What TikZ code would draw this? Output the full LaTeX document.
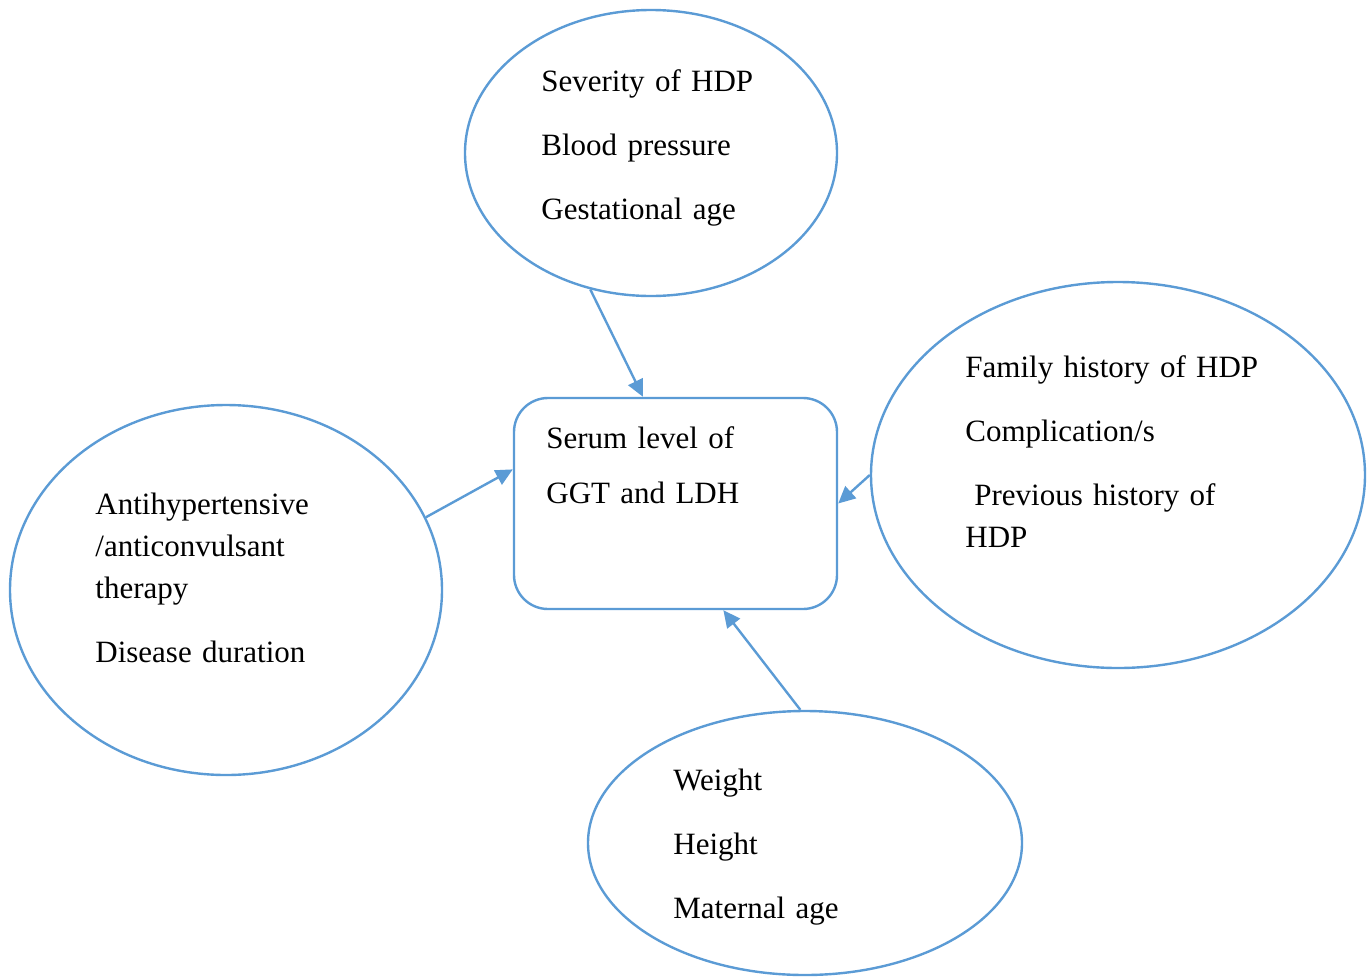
\documentclass[tikz,border=0pt]{standalone}
\usepackage{fontspec}
\setmainfont{Liberation Serif}
\usetikzlibrary{arrows.meta,calc,shapes.geometric}
\definecolor{linkblue}{HTML}{5B9BD5}

\begin{document}
\begin{tikzpicture}[x=0.5pt,y=-0.5pt,>={Triangle[length=8.5pt,width=8pt]},
  bubble/.style={draw=linkblue,line width=1.2pt,ellipse,inner sep=0pt},
  items/.style={anchor=base west,align=left,text width=170pt,inner sep=0pt,
                font=\fontsize{15.5}{21}\selectfont},
  link/.style={->,draw=linkblue,line width=1.2pt}]
  \useasboundingbox (0,0) rectangle (1372,976);

  % factor groups
  \node[bubble,minimum width=186pt,minimum height=143pt] (sev) at (651,153) {};
  \node[bubble,minimum width=216pt,minimum height=185pt] (ther) at (226,590) {};
  \node[bubble,minimum width=247pt,minimum height=193pt] (fam) at (1118,475) {};
  \node[bubble,minimum width=217pt,minimum height=132pt] (mat) at (805,843) {};

  % outcome
  \node[draw=linkblue,line width=1.2pt,rounded corners=17pt,inner sep=0pt,
        minimum width=161.5pt,minimum height=105.5pt] (serum) at (675.5,503.5) {};

  \node[items] (sevtext) at (541,91)
       {Severity of HDP\\[11pt]Blood pressure\\[11pt]Gestational age};
  \node[items] (thertext) at (95,514)
       {Antihypertensive\\/anticonvulsant\\therapy\\[11pt]Disease duration};
  \node[items] (famtext) at (965,377)
       {Family history of HDP\\[11pt]Complication/s\\[11pt]\hspace{4.5pt}Previous history of\\HDP};
  \node[items] (mattext) at (673,790)
       {Weight\\[11pt]Height\\[11pt]Maternal age};
  \node[items] (serumtext) at (546,448)
       {Serum level of\\[6.5pt]GGT and LDH};

  \draw[link] (sev.246) -- ($(serum.north west)!0.4!(serum.north east)$);
  \draw[link] (ther.20) -- ($(serum.north west)!0.34!(serum.south west)$);
  \draw[link] (fam.west) -- (serum.east);
  \draw[link] (mat.92) -- ($(serum.south west)!0.647!(serum.south east)$);
\end{tikzpicture}
\end{document}
